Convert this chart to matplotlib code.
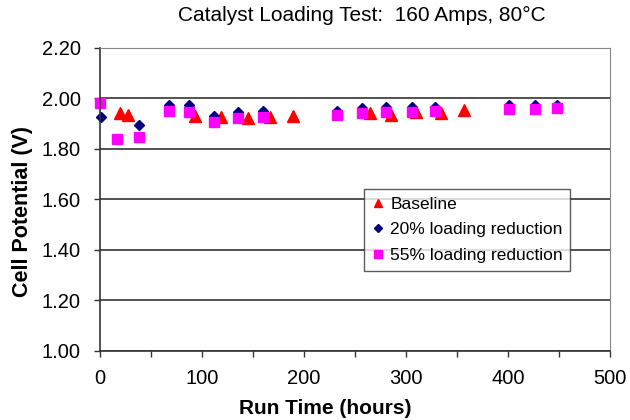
import matplotlib
matplotlib.use("Agg")
import matplotlib.pyplot as plt

plt.rcParams['font.family'] = ['Liberation Sans', 'DejaVu Sans']

# Baseline (triangles)
base_x = [20, 27, 93, 119, 145, 167, 189, 265, 285, 310, 334, 357]
base_y = [1.94, 1.935, 1.93, 1.926, 1.92, 1.925, 1.93, 1.94, 1.935, 1.946, 1.942, 1.955]

# 20% loading reduction (diamonds)
red20_x = [1, 38, 68, 87, 112, 135, 160, 232, 257, 280, 306, 329, 401, 427, 448]
red20_y = [1.925, 1.893, 1.975, 1.973, 1.93, 1.944, 1.948, 1.951, 1.96, 1.964, 1.964, 1.966, 1.975, 1.975, 1.975]

# 55% loading reduction (squares)
red55_x = [0, 17, 38, 68, 87, 112, 135, 160, 232, 257, 280, 306, 329, 401, 427, 448]
red55_y = [1.98, 1.84, 1.847, 1.948, 1.946, 1.906, 1.922, 1.927, 1.933, 1.942, 1.945, 1.945, 1.948, 1.958, 1.958, 1.962]

labels = ['Baseline', '20% loading reduction', '55% loading reduction']

fig = plt.figure(figsize=(6.3, 4.2), dpi=100)
ax = fig.add_axes([0.1587, 0.165, 0.8093, 0.7214])

ax.plot(base_x, base_y, '^', color='#FF0000', markersize=8, linestyle='none', label=labels[0], clip_on=False)
ax.plot(red20_x, red20_y, 'D', color='#000080', markersize=5.5, linestyle='none', label=labels[1], clip_on=False)
ax.plot(red55_x, red55_y, 's', color='#FF00FF', markersize=7.5, linestyle='none', label=labels[2], clip_on=False)

ax.set_xlim(0, 500)
ax.set_ylim(1.0, 2.2)
ax.set_xticks(range(0, 501, 100))
ax.set_xticks(range(50, 500, 100), minor=True)
ax.set_yticks([1.0, 1.2, 1.4, 1.6, 1.8, 2.0, 2.2])
ax.set_yticklabels(['%.2f' % v for v in [1.0, 1.2, 1.4, 1.6, 1.8, 2.0, 2.2]])
ax.yaxis.grid(True, color='#333333', linewidth=1.2)
ax.set_axisbelow(True)

for s in ['top', 'right']:
    ax.spines[s].set_color('#888888')
for s in ['left', 'bottom']:
    ax.spines[s].set_color('#333333')
    ax.spines[s].set_linewidth(1.2)

ax.tick_params(axis='both', which='major', direction='out', length=4, width=1,
               labelsize=14.5, color='#333333')
ax.tick_params(axis='y', which='major', pad=10)
ax.tick_params(axis='x', which='major', pad=9)
ax.tick_params(axis='x', which='minor', direction='out', length=4, width=1, color='#333333')

ax.set_xlabel('Run Time (hours)', fontsize=15, fontweight='bold')
ax.xaxis.set_label_coords(0.441, -0.158)
ax.set_ylabel('Cell Potential (V)', fontsize=15.5, fontweight='bold')
ax.yaxis.set_label_coords(-0.131, 0.458)
fig.suptitle('Catalyst Loading Test:  160 Amps, 80°C', x=0.575, y=0.985, fontsize=15)

leg = ax.legend(loc='lower left', bbox_to_anchor=(0.517, 0.264, 0.404, 0.264), mode='expand',
                fontsize=12.5, frameon=True, fancybox=False, handlelength=0.8, markerscale=0.75,
                handletextpad=0.3, borderpad=0.45, labelspacing=0.6, borderaxespad=0)
leg.get_frame().set_edgecolor('#333333')
leg.get_frame().set_linewidth(1.0)

fig.savefig('out.png', dpi=100)
